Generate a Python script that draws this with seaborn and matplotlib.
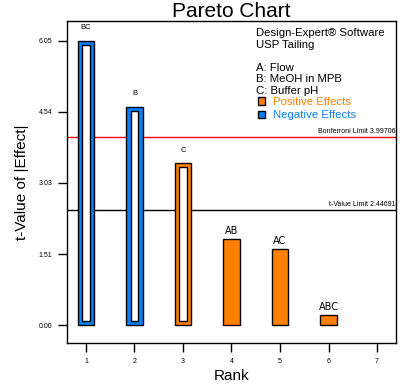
import matplotlib
matplotlib.use("Agg")
import matplotlib.pyplot as plt
import seaborn as sns
import pandas as pd
from matplotlib.patches import Patch

# Données
rangs = [1, 2, 3, 4, 5, 6]
termes = ["BC", "B", "C", "AB", "AC", "ABC"]
t_valeurs = [6.05, 4.64, 3.44, 1.83, 1.62, 0.21]
signes = ["neg", "neg", "pos", "pos", "pos", "pos"]
creux = [True, True, True, False, False, False]
limite_bonferroni = 3.99706
limite_t = 2.44691
yticks = [0.00, 1.51, 3.03, 4.54, 6.05]
xticks = [1, 2, 3, 4, 5, 6, 7]
facteurs = ["A: Flow", "B: MeOH in MPB", "C: Buffer pH"]

ORANGE = "#FF8000"
BLEU = "#0A80F5"
couleurs = {"pos": ORANGE, "neg": BLEU}

df = pd.DataFrame({"rang": rangs, "terme": termes, "t": t_valeurs,
                   "signe": signes, "creux": creux})

sns.set_style("white")
plt.rcParams["font.family"] = ["Liberation Sans", "DejaVu Sans"]
plt.rcParams["text.color"] = "black"
plt.rcParams["axes.labelcolor"] = "black"

W, H = 406, 390
fig = plt.figure(figsize=(W / 100, H / 100), dpi=100)
ax = fig.add_axes([67 / W, 1 - 343 / H, (396 - 67) / W, (343 - 21) / H])
ax.set_facecolor("white")

largeur = 0.337
largeur_int = 0.15
retrait = 0.085

# barres extérieures (couleur + contour noir)
for signe, sous in df.groupby("signe"):
    sns.barplot(data=sous, x="rang", y="t", native_scale=True, width=largeur,
                color=couleurs[signe], saturation=1, edgecolor="black",
                linewidth=1, zorder=3, ax=ax)

# intérieur blanc des barres creuses
sous = df[df["creux"]]
sns.barplot(x=sous["rang"], y=sous["t"] - 2 * retrait, bottom=retrait,
            native_scale=True, width=largeur_int, color="white", saturation=1,
            edgecolor="black", linewidth=1, zorder=4, ax=ax)

# lignes limites
ax.axhline(limite_bonferroni, color="red", lw=1, zorder=1)
ax.axhline(limite_t, color="black", lw=1, zorder=1)
ax.text(7.37, limite_bonferroni + 0.05, f"Bonferroni Limit {limite_bonferroni}",
        ha="right", va="bottom", fontsize=5)
ax.text(7.37, limite_t + 0.05, f"t-Value Limit {limite_t}",
        ha="right", va="bottom", fontsize=5)

# étiquettes des barres
for _, r in df.iterrows():
    if r["creux"]:
        ax.annotate(r["terme"], (r["rang"], r["t"]), xytext=(0, 7),
                    textcoords="offset points", ha="center", va="bottom",
                    fontsize=5.5)
    else:
        ax.annotate(r["terme"], (r["rang"], r["t"]), xytext=(0, 2),
                    textcoords="offset points", ha="center", va="bottom",
                    fontsize=7, family="DejaVu Sans")

ax.set_xlim(0.61, 7.39)
ax.set_ylim(-0.38, 6.47)
ax.set_xticks(xticks)
ax.set_xticklabels([str(v) for v in xticks])
ax.set_yticks(yticks)
ax.set_yticklabels([f"{v:.2f}" for v in yticks])
ax.tick_params(axis="both", direction="out", length=6.5, width=1, colors="black",
               labelsize=5, bottom=True, left=True)
ax.tick_params(axis="y", pad=4)
ax.tick_params(axis="x", pad=4)
for s in ax.spines.values():
    s.set_color("black")
    s.set_linewidth(1)

ax.set_xlabel("Rank", fontsize=11, labelpad=3)
ax.set_ylabel("t-Value of |Effect|", fontsize=11, labelpad=7)
ax.set_title("Pareto Chart", fontsize=15, pad=3)

# texte d'information
x0 = 256 / W
fig.text(x0, 1 - 33 / H, "Design-Expert® Software", fontsize=8.2, va="center")
fig.text(x0, 1 - 44.5 / H, "USP Tailing", fontsize=8.2, va="center")
for i, f in enumerate(facteurs):
    fig.text(x0, 1 - (68 + 11.5 * i) / H, f, fontsize=8.2, va="center")

poignees = [Patch(facecolor=ORANGE, edgecolor="black"),
            Patch(facecolor=BLEU, edgecolor="black")]
fig.legend(poignees, ["Positive Effects", "Negative Effects"],
           labelcolor=[ORANGE, BLEU], loc="upper left",
           bbox_to_anchor=(258 / W, 1 - 97 / H), frameon=False, fontsize=8.2,
           handlelength=0.6, handleheight=0.6, handletextpad=0.7,
           labelspacing=0.3, borderpad=0, borderaxespad=0)

fig.savefig("out.png", dpi=100)
